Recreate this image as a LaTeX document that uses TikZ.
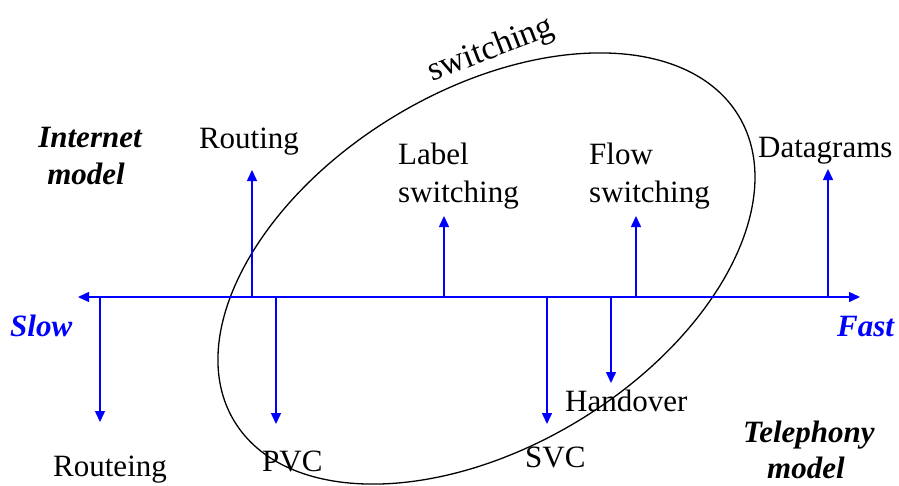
\documentclass[tikz,border=0pt]{standalone}
\usepackage{fontspec}
\setmainfont{Liberation Serif}
\usetikzlibrary{arrows.meta}
\begin{document}
\begin{tikzpicture}[x=1pt,y=-1pt,
  lbl/.style={font=\fontsize{31}{37}\selectfont, inner sep=0pt},
  bi/.style={font=\fontsize{31}{37}\selectfont\bfseries\itshape, inner sep=0pt},
  axis/.style={blue, line width=1.5pt, {Triangle[length=11pt,width=10pt]}-{Triangle[length=11pt,width=10pt]}},
  arr/.style={blue, line width=1.5pt, -{Triangle[length=11pt,width=10pt]}},
  loop/.style={black, line width=1.3pt}]
\useasboundingbox (0,0) rectangle (899,485);
% switching ellipse
\coordinate (ec) at (486.5,268.5);
\draw[loop, rotate around={31.2:(ec)}] (ec) ellipse [x radius=294.8pt, y radius=177.9pt];
\node[font=\fontsize{34}{40}\selectfont, inner sep=0pt, anchor=base, rotate=21] (sw) at (494,58) {switching};
% axis
\coordinate (L) at (78,297);
\coordinate (R) at (860,297);
\draw[axis] (L) -- (R);
% up arrows
\coordinate (u1) at (252,297); \coordinate (u1t) at (252,170);
\coordinate (u2) at (444,297); \coordinate (u2t) at (444,216);
\coordinate (u3) at (636,297); \coordinate (u3t) at (636,216);
\coordinate (u4) at (828,297); \coordinate (u4t) at (828,169);
\draw[arr] (u1) -- (u1t);
\draw[arr] (u2) -- (u2t);
\draw[arr] (u3) -- (u3t);
\draw[arr] (u4) -- (u4t);
% down arrows
\coordinate (d1) at (100,297); \coordinate (d1t) at (100,422);
\coordinate (d2) at (276,297); \coordinate (d2t) at (276,424);
\coordinate (d3) at (547,297); \coordinate (d3t) at (547,424);
\coordinate (d4) at (611,297); \coordinate (d4t) at (611,383);
\draw[arr] (d1) -- (d1t);
\draw[arr] (d2) -- (d2t);
\draw[arr] (d3) -- (d3t);
\draw[arr] (d4) -- (d4t);
% labels
\node[bi, anchor=base] (im1) at (90,147) {Internet};
\node[bi, anchor=base] (im2) at (86,184) {model};
\node[lbl, anchor=base] (routing) at (249,148) {Routing};
\node[lbl, anchor=base west] (lab1) at (398,164) {Label};
\node[lbl, anchor=base west] (lab2) at (398,202) {switching};
\node[lbl, anchor=base west] (flo1) at (589,164) {Flow};
\node[lbl, anchor=base west] (flo2) at (589,202) {switching};
\node[lbl, anchor=base west] (dg) at (758,157) {Datagrams};
\node[bi, anchor=base west, text=blue] (slow) at (10,336) {Slow};
\node[bi, anchor=base west, text=blue] (fast) at (837,336) {Fast};
\node[lbl, anchor=base west] (routeing) at (53,476) {Routeing};
\node[lbl, anchor=base west] (pvc) at (262,471) {PVC};
\node[lbl, anchor=base west] (svc) at (525,467) {SVC};
\node[lbl, anchor=base west] (hand) at (565,411) {Handover};
\node[bi, anchor=base west] (tel1) at (743,442) {Telephony};
\node[bi, anchor=base west] (tel2) at (767,478) {model};
\end{tikzpicture}
\end{document}
